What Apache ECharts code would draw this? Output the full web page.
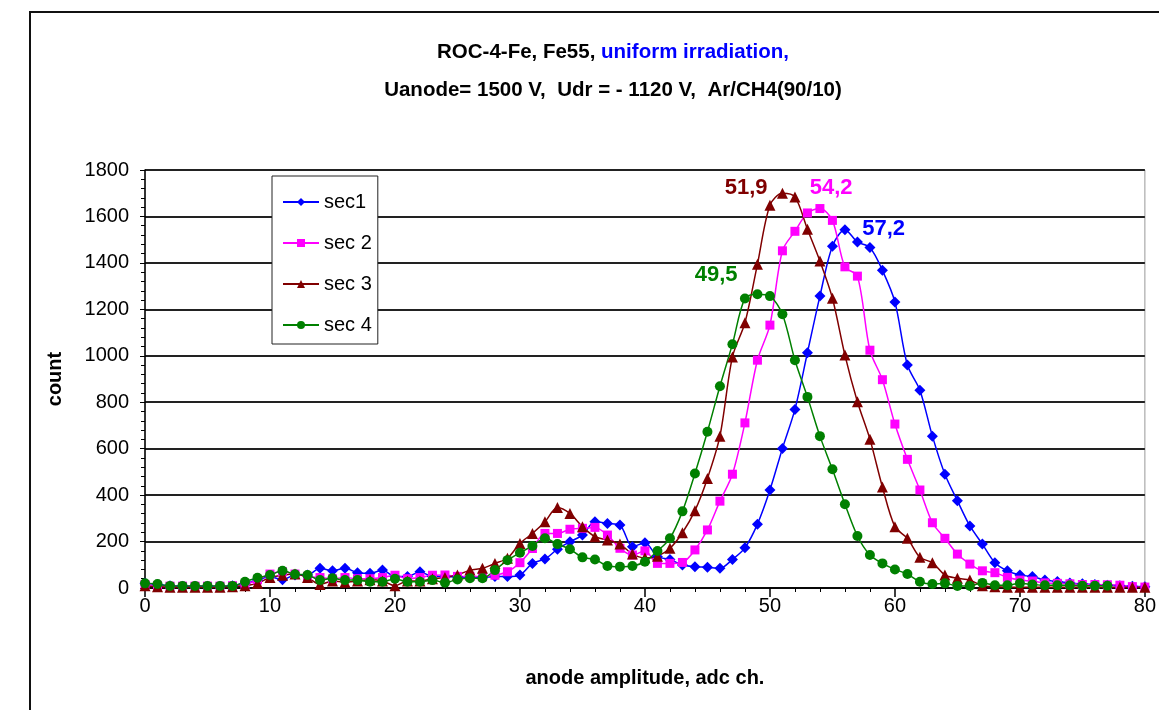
<!DOCTYPE html>
<html>
<head>
<meta charset="utf-8">
<script src="https://cdn.jsdelivr.net/npm/echarts@6/dist/echarts.min.js"></script>
<style>
  html, body { margin: 0; padding: 0; background: #fff; }
  #main { width: 1159px; height: 710px; }
</style>
</head>
<body>
<div id="main"></div>
<script>
// adc channel
var adcCh = [0, 1, 2, 3, 4, 5, 6, 7, 8, 9, 10, 11, 12, 13, 14, 15, 16, 17, 18, 19,
  20, 21, 22, 23, 24, 25, 26, 27, 28, 29, 30, 31, 32, 33, 34, 35, 36, 37, 38, 39,
  40, 41, 42, 43, 44, 45, 46, 47, 48, 49, 50, 51, 52, 53, 54, 55, 56, 57, 58, 59,
  60, 61, 62, 63, 64, 65, 66, 67, 68, 69, 70, 71, 72, 73, 74, 75, 76, 77, 78, 79, 80];

var sec1 = [20, 15, 10, 8, 8, 8, 8, 10, 20, 34, 49, 35, 56, 56, 85, 74, 85, 66, 63, 77,
  49, 49, 70, 49, 50, 48, 45, 45, 49, 49, 56, 106, 125, 167, 199, 228, 285, 278, 271, 178,
  195, 135, 123, 99, 92, 89, 85, 123, 173, 275, 422, 601, 769, 1013, 1257, 1472, 1543, 1490, 1466, 1368,
  1232, 960, 852, 654, 490, 376, 267, 189, 109, 74, 56, 49, 34, 28, 22, 18, 15, 12, 10, 8, 5];

var sec2 = [15, 10, 8, 8, 8, 8, 8, 10, 15, 35, 60, 70, 60, 50, 45, 40, 45, 40, 40, 45,
  55, 40, 45, 55, 56, 50, 50, 48, 55, 70, 109, 170, 235, 235, 253, 257, 261, 228, 171, 142,
  160, 106, 106, 110, 164, 250, 374, 490, 711, 981, 1132, 1452, 1536, 1615, 1634, 1583, 1383, 1343, 1024, 897,
  706, 554, 422, 281, 214, 146, 103, 74, 66, 46, 34, 30, 22, 20, 18, 15, 15, 14, 12, 6, 4];

var sec3 = [10, 5, 3, 3, 3, 3, 3, 5, 10, 20, 45, 55, 60, 45, 15, 30, 25, 30, 35, 30,
  10, 30, 30, 40, 45, 56, 77, 85, 106, 128, 192, 235, 285, 347, 321, 264, 221, 207, 189, 146,
  130, 137, 171, 238, 333, 472, 654, 995, 1142, 1394, 1648, 1700, 1684, 1545, 1408, 1248, 1003, 802, 641, 435,
  264, 214, 132, 109, 56, 42, 34, 10, 5, 3, 3, 3, 3, 3, 3, 3, 3, 3, 3, 3, 3];

var sec4 = [20, 17, 9, 9, 9, 9, 9, 9, 27, 44, 56, 74, 59, 56, 34, 42, 34, 34, 27, 27,
  40, 27, 27, 34, 23, 37, 42, 42, 77, 120, 152, 181, 214, 189, 167, 132, 123, 95, 92, 95,
  113, 159, 214, 330, 493, 673, 869, 1050, 1247, 1265, 1257, 1179, 981, 823, 654, 511, 361, 224, 142, 106,
  80, 60, 27, 17, 20, 9, 9, 22, 12, 12, 20, 15, 12, 12, 12, 10, 10, 10, null, null, null];

var seriesNames = ['sec1', 'sec 2', 'sec 3', 'sec 4'];
var seriesColors = ['#0000ff', '#ff00ff', '#800000', '#008000'];
var peakLabels = ['57,2', '54,2', '51,9', '49,5'];

function pairs(ys) {
  var out = [];
  for (var i = 0; i < adcCh.length; i++) {
    out.push([adcCh[i], ys[i]]);
  }
  return out;
}

var myChart = echarts.init(document.getElementById('main'));

// label spot for each peak (data coords)
var peakCoords = [[59.1, 1545], [54.9, 1721], [48.1, 1721], [45.7, 1347]];
var symbols = ['diamond', 'rect', 'triangle', 'circle'];
var symbolSizes = [11, 9, 11, 10];
var allData = [sec1, sec2, sec3, sec4];

var series = [];
for (var k = 0; k < 4; k++) {
  series.push({
    name: seriesNames[k],
    type: 'line',
    smooth: 0.3,
    data: pairs(allData[k]),
    symbol: symbols[k],
    symbolSize: symbolSizes[k],
    lineStyle: { color: seriesColors[k], width: 1.5 },
    itemStyle: { color: seriesColors[k] },
    markPoint: {
      symbol: 'rect',
      symbolSize: 1,
      itemStyle: { color: 'rgba(0,0,0,0)' },
      label: {
        show: true,
        position: 'inside',
        formatter: peakLabels[k],
        color: seriesColors[k],
        fontSize: 22,
        fontWeight: 'bold',
        fontFamily: 'Liberation Sans, Arial'
      },
      data: [{ coord: peakCoords[k] }]
    }
  });
}

var option = {
  animation: false,
  backgroundColor: '#fff',
  textStyle: { fontFamily: 'Liberation Sans, Arial', color: '#000' },
  title: {
    left: 608,
    textAlign: 'center',
    top: 28,
    text: '{b|ROC-4-Fe, Fe55, }{u|uniform irradiation,}\n{b|Uanode= 1500 V,  Udr = - 1120 V,  Ar/CH4(90/10)}',
    textStyle: {
      rich: {
        b: { fontSize: 20.5, fontWeight: 'bold', color: '#000', lineHeight: 38 },
        u: { fontSize: 20.5, fontWeight: 'bold', color: '#0000ff', lineHeight: 38 }
      }
    }
  },
  graphic: [{
    type: 'rect',
    z: -1,
    shape: { x: 30, y: 12, width: 1200, height: 800 },
    style: { fill: 'none', stroke: '#111', lineWidth: 2 }
  }],
  legend: {
    orient: 'vertical',
    left: 272,
    top: 176,
    data: seriesNames,
    backgroundColor: '#fff',
    borderColor: '#222',
    borderWidth: 1,
    borderRadius: 0,
    padding: [16, 6, 9, 10],
    itemGap: 21,
    itemWidth: 36,
    itemHeight: 10,
    textStyle: { fontSize: 20, color: '#000', fontFamily: 'Liberation Sans, Arial' }
  },
  grid: {
    left: 145,
    top: 170,
    right: 12,
    bottom: 122,
    show: true,
    borderColor: '#999',
    borderWidth: 1
  },
  xAxis: {
    type: 'value',
    min: 0,
    max: 80,
    interval: 10,
    name: 'anode amplitude, adc ch.',
    nameLocation: 'middle',
    nameGap: 80,
    nameTextStyle: { fontSize: 20, fontWeight: 'bold', color: '#000' },
    axisLine: { lineStyle: { color: '#000', width: 1.5 } },
    axisTick: { show: true, length: 9, lineStyle: { color: '#000', width: 1.5 } },
    minorTick: { show: true, splitNumber: 5, length: 4, lineStyle: { color: '#000' } },
    axisLabel: { fontSize: 20, color: '#000', margin: 8 },
    splitLine: { show: false }
  },
  yAxis: {
    type: 'value',
    min: 0,
    max: 1800,
    interval: 200,
    name: 'count',
    nameLocation: 'middle',
    nameGap: 80,
    nameTextStyle: { fontSize: 20, fontWeight: 'bold', color: '#000' },
    axisLine: { show: true, lineStyle: { color: '#000', width: 1.5 } },
    axisTick: { show: true, length: 5, lineStyle: { color: '#000' } },
    minorTick: { show: true, splitNumber: 5, length: 4, lineStyle: { color: '#000' } },
    axisLabel: {
      fontSize: 20,
      color: '#000',
      margin: 16,
      formatter: function (v) { return String(v); }
    },
    splitLine: { show: true, lineStyle: { color: '#222', width: 2 } }
  },
  series: series
};

myChart.setOption(option);
</script>
</body>
</html>
